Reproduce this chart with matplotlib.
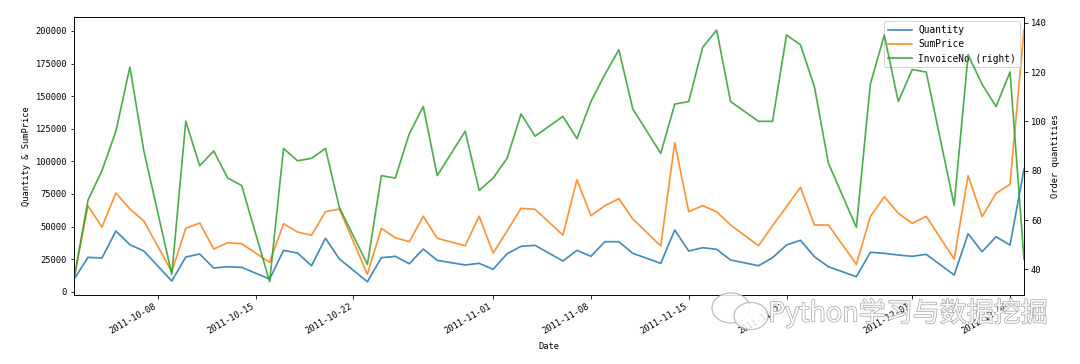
import matplotlib
matplotlib.use("Agg")
import matplotlib.pyplot as plt
import matplotlib.dates as mdates
import matplotlib.patheffects as pe
from matplotlib.patches import Ellipse
import pandas as pd

dates = pd.to_datetime([
    "2011-10-02", "2011-10-03", "2011-10-04", "2011-10-05", "2011-10-06", "2011-10-07",
    "2011-10-09", "2011-10-10", "2011-10-11", "2011-10-12", "2011-10-13", "2011-10-14",
    "2011-10-16", "2011-10-17", "2011-10-18", "2011-10-19", "2011-10-20", "2011-10-21",
    "2011-10-23", "2011-10-24", "2011-10-25", "2011-10-26", "2011-10-27", "2011-10-28",
    "2011-10-30", "2011-10-31", "2011-11-01", "2011-11-02", "2011-11-03", "2011-11-04",
    "2011-11-06", "2011-11-07", "2011-11-08", "2011-11-09", "2011-11-10", "2011-11-11",
    "2011-11-13", "2011-11-14", "2011-11-15", "2011-11-16", "2011-11-17", "2011-11-18",
    "2011-11-20", "2011-11-21", "2011-11-22", "2011-11-23", "2011-11-24", "2011-11-25",
    "2011-11-27", "2011-11-28", "2011-11-29", "2011-11-30", "2011-12-01", "2011-12-02",
    "2011-12-04", "2011-12-05", "2011-12-06", "2011-12-07", "2011-12-08", "2011-12-09",
])

quantity = [
    9500, 26400, 25860, 46580, 36060, 31230,
    8210, 26630, 28930, 18190, 19180, 18720,
    9740, 31760, 29690, 19950, 40970, 25090,
    7670, 26090, 27160, 21480, 32760, 24090,
    20490, 21790, 17190, 29160, 34830, 35600,
    23560, 31760, 27160, 38370, 38370, 29460,
    21790, 47340, 31230, 33760, 32530, 24320,
    19950, 26090, 35830, 39440, 26860, 19180,
    11510, 30230, 29460, 28160, 27160, 28700,
    12810, 44500, 30690, 42200, 35830, 94000,
]

sum_price = [
    10280, 66000, 49650, 75730, 63460, 54250,
    15350, 48650, 52710, 32760, 37600, 36830,
    22560, 52180, 45810, 43270, 61380, 63460,
    13350, 48650, 41430, 38370, 57860, 40970,
    35300, 57860, 29690, 46580, 63990, 63230,
    43500, 85940, 58310, 66000, 71360, 55780,
    35060, 114330, 61380, 66000, 61380, 51180,
    35300, 50650, 65220, 80100, 51180, 51180,
    21020, 57550, 72890, 60140, 52480, 57860,
    25090, 89000, 57550, 75500, 82410, 201000,
]

invoice_no = [
    36, 68, 80, 96, 122, 88,
    38, 100, 82, 88, 77, 74,
    35, 89, 84, 85, 89, 65,
    42, 78, 77, 95, 106, 78,
    96, 72, 77, 85, 103, 94,
    102, 93, 108, 119, 129, 105,
    87, 107, 108, 130, 137, 108,
    100, 100, 135, 131, 114, 83,
    57, 115, 135, 108, 121, 120,
    66, 127, 115, 106, 120, 44,
]

series_names = ["Quantity", "SumPrice", "InvoiceNo (right)"]
colors = ["#1f77b4", "#ff7f0e", "#2ca02c"]

FONT = ["DejaVu Sans Mono"]
plt.rcParams["font.family"] = FONT
plt.rcParams["font.size"] = 8.8

fig = plt.figure(figsize=(15, 364 / 72), dpi=72)
ax = fig.add_axes([74 / 1080, 1 - 295 / 364, 950 / 1080, 278 / 364])
ax2 = ax.twinx()

l1, = ax.plot(dates, quantity, color=colors[0], lw=1.7, alpha=0.85, label=series_names[0])
l2, = ax.plot(dates, sum_price, color=colors[1], lw=1.7, alpha=0.85, label=series_names[1])
l3, = ax2.plot(dates, invoice_no, color=colors[2], lw=1.7, alpha=0.85, label=series_names[2])

ax.set_xlim(dates[0], dates[-1])
ax.set_ylim(-2500, 210700)
ax2.set_ylim(29.6, 142.3)
ax.set_yticks([0, 25000, 50000, 75000, 100000, 125000, 150000, 175000, 200000])
ax2.set_yticks([40, 60, 80, 100, 120, 140])

loc = mdates.AutoDateLocator()
ax.xaxis.set_major_locator(loc)
ax.xaxis.set_major_formatter(mdates.DateFormatter("%Y-%m-%d"))
for lab in ax.get_xticklabels():
    lab.set_rotation(30)
    lab.set_ha("right")

ax.set_xlabel("Date", labelpad=6)
ax.set_ylabel("Quantity & SumPrice")
ax2.set_ylabel("Order quantities")

ax.legend(handles=[l1, l2, l3], loc="upper right", fontsize=9.5, handlelength=2.5,
          borderaxespad=0.45, labelspacing=0.45, handletextpad=0.7)

# watermark (WeChat-like bubbles + text)
for cx, cy, w, h in [(731, 308, 38, 30), (751, 316, 34, 27)]:
    fig.patches.append(Ellipse((cx / 1080, 1 - cy / 364), w / 1080, h / 364,
                               transform=fig.transFigure, facecolor="white",
                               edgecolor="#b0b0b0", lw=1.2, alpha=0.85))
fig.text(908 / 1080, 1 - 313 / 364, "Python学习与数据挖掘",
         family=["Noto Sans CJK SC", "DejaVu Sans"], fontsize=27,
         color="white", alpha=0.9, ha="center", va="center",
         path_effects=[pe.withStroke(linewidth=1.3, foreground="#9a9a9a")])

fig.savefig("out.png", dpi=72)
